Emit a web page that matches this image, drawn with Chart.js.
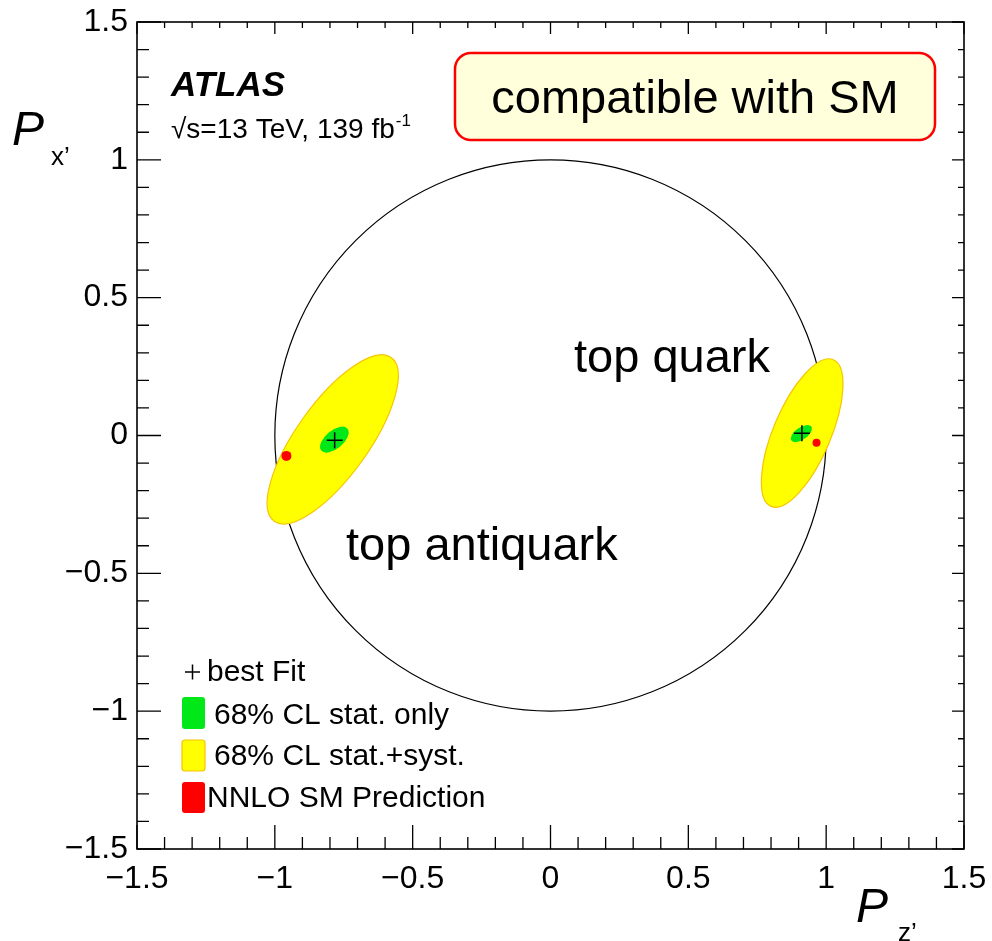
<!DOCTYPE html>
<html>
<head>
<meta charset="utf-8">
<script src="https://cdn.jsdelivr.net/npm/chart.js@4.4.1/dist/chart.umd.min.js"></script>
<style>
  html, body { margin: 0; padding: 0; background: #fff; }
  canvas { display: block; }
</style>
</head>
<body>
<canvas id="myChart" width="992" height="941"></canvas>
<script>
// best fit point (Pz', Px') : antiquark, quark
const fitZ = [-0.783, 0.912];
const fitX = [-0.017, 0.008];
// NNLO SM prediction
const smZ = [-0.958, 0.965];
const smX = [-0.074, -0.026];
// 68% CL stat.+syst. contours (centre, semi axes, angle in degrees)
const systZ = [-0.790, 0.913];
const systX = [-0.014, 0.009];
const systA = [0.365, 0.289];
const systB = [0.132, 0.104];
const systAng = [54.5, 67];
// 68% CL stat. only contours
const statZ = [-0.784, 0.910];
const statX = [-0.015, 0.007];
const statA = [0.062, 0.044];
const statB = [0.033, 0.022];
const statAng = [40, 35];

const tickValues = [-1.5, -1, -0.5, 0, 0.5, 1, 1.5];
const legendLabels = ["best Fit", "68% CL stat. only", "68% CL stat.+syst.", "NNLO SM Prediction"];
const regionLabels = ["top quark", "top antiquark"];

const FONT = "'Liberation Sans', Arial, sans-serif";

function fmt(v) {
  const r = Math.round(v * 10) / 10;
  return r < 0 ? "\u2212" + Math.abs(r) : String(r);
}

function ellipsePath(ctx, xs, ys, z, x, a, b, ang) {
  const cx = xs.getPixelForValue(z);
  const cy = ys.getPixelForValue(x);
  const ra = xs.getPixelForValue(z + a) - cx;
  const rb = xs.getPixelForValue(z + b) - cx;
  ctx.beginPath();
  ctx.ellipse(cx, cy, ra, rb, -ang * Math.PI / 180, 0, 2 * Math.PI);
}

// circle + contours under the points
const contours = {
  id: "contours",
  beforeDatasetsDraw(chart) {
    const ctx = chart.ctx;
    const xs = chart.scales.x, ys = chart.scales.y;
    ctx.save();
    // unit circle
    const cx = xs.getPixelForValue(0), cy = ys.getPixelForValue(0);
    ctx.beginPath();
    ctx.ellipse(cx, cy, xs.getPixelForValue(1) - cx, cy - ys.getPixelForValue(1), 0, 0, 2 * Math.PI);
    ctx.strokeStyle = "#000";
    ctx.lineWidth = 1.2;
    ctx.stroke();

    for (let i = 0; i < systZ.length; i++) {
      ellipsePath(ctx, xs, ys, systZ[i], systX[i], systA[i], systB[i], systAng[i]);
      ctx.fillStyle = "#ffff00";
      ctx.fill();
      ctx.strokeStyle = "#f5c400";
      ctx.lineWidth = 1.2;
      ctx.stroke();
    }
    for (let i = 0; i < statZ.length; i++) {
      ellipsePath(ctx, xs, ys, statZ[i], statX[i], statA[i], statB[i], statAng[i]);
      ctx.fillStyle = "#00e818";
      ctx.fill();
    }
    ctx.restore();
  }
};

// frame, inward ticks, titles, texts, legend
const decorations = {
  id: "decorations",
  afterDraw(chart) {
    const ctx = chart.ctx;
    const a = chart.chartArea;
    const xs = chart.scales.x, ys = chart.scales.y;
    ctx.save();
    ctx.strokeStyle = "#000";
    ctx.lineWidth = 1.6;
    ctx.strokeRect(a.left, a.top, a.right - a.left, a.bottom - a.top);
    ctx.lineWidth = 1.3;
    ctx.beginPath();
    for (let i = -15; i <= 15; i++) {
      const v = i / 10;
      const len = i % 5 === 0 ? 24 : 12;
      const px = xs.getPixelForValue(v);
      const py = ys.getPixelForValue(v);
      ctx.moveTo(px, a.bottom); ctx.lineTo(px, a.bottom - len);
      ctx.moveTo(px, a.top); ctx.lineTo(px, a.top + len * 0.5);
      ctx.moveTo(a.left, py); ctx.lineTo(a.left + len, py);
      ctx.moveTo(a.right, py); ctx.lineTo(a.right - len * 0.5, py);
    }
    ctx.stroke();

    ctx.fillStyle = "#000";
    ctx.textBaseline = "alphabetic";
    ctx.textAlign = "left";

    // axis titles
    ctx.font = "italic 48px " + FONT;
    ctx.fillText("P", 12, 145);
    ctx.fillText("P", 856, 922);
    ctx.font = "26px " + FONT;
    ctx.fillText("x\u2019", 51, 165);
    ctx.fillText("z\u2019", 898, 941);

    // ATLAS label
    ctx.font = "italic bold 35px " + FONT;
    ctx.fillText("ATLAS", 171, 96);
    ctx.font = "28px " + FONT;
    ctx.fillText("\u221As=13 TeV, 139 fb", 171, 138);
    const w = ctx.measureText("\u221As=13 TeV, 139 fb").width;
    ctx.font = "17px " + FONT;
    ctx.fillText("-1", 171 + w + 1, 126);

    // region labels
    ctx.font = "47px " + FONT;
    ctx.fillText(regionLabels[0], 574, 372);
    ctx.fillText(regionLabels[1], 346, 560);

    // compatible box
    ctx.beginPath();
    ctx.roundRect(455, 53, 480, 87, 16);
    ctx.fillStyle = "#ffffdc";
    ctx.fill();
    ctx.strokeStyle = "#ff0000";
    ctx.lineWidth = 2.5;
    ctx.stroke();
    ctx.fillStyle = "#000";
    ctx.textAlign = "center";
    ctx.fillText("compatible with SM", 695, 113);

    // legend
    ctx.textAlign = "left";
    ctx.font = "30px " + FONT;
    ctx.strokeStyle = "#000";
    ctx.lineWidth = 1.5;
    ctx.beginPath();
    ctx.moveTo(185, 672); ctx.lineTo(200, 672);
    ctx.moveTo(192.5, 664.5); ctx.lineTo(192.5, 679.5);
    ctx.stroke();
    ctx.fillText(legendLabels[0], 207, 681);

    ctx.beginPath();
    ctx.roundRect(182, 697, 23, 32, 3);
    ctx.fillStyle = "#00e818";
    ctx.fill();
    ctx.fillStyle = "#000";
    ctx.fillText(legendLabels[1], 214, 724);

    ctx.beginPath();
    ctx.roundRect(182, 740, 23, 31, 3);
    ctx.fillStyle = "#ffff00";
    ctx.fill();
    ctx.strokeStyle = "#f5c400";
    ctx.lineWidth = 1.2;
    ctx.stroke();
    ctx.fillStyle = "#000";
    ctx.fillText(legendLabels[2], 214, 765);

    ctx.beginPath();
    ctx.roundRect(182, 782, 23, 31, 3);
    ctx.fillStyle = "#ff0000";
    ctx.fill();
    ctx.fillStyle = "#000";
    ctx.fillText(legendLabels[3], 207, 807);
    ctx.restore();
  }
};

const ctx = document.getElementById("myChart").getContext("2d");
const chart = new Chart(ctx, {
  type: "scatter",
  data: {
    datasets: [
      {
        label: "NNLO SM Prediction",
        data: smZ.map((z, i) => ({ x: z, y: smX[i] })),
        pointRadius: [5, 4],
        pointBackgroundColor: "#ff0000",
        pointBorderWidth: 0
      },
      {
        label: "best Fit",
        data: fitZ.map((z, i) => ({ x: z, y: fitX[i] })),
        pointStyle: "cross",
        pointRadius: 8,
        pointBorderColor: "#000",
        pointBorderWidth: 1.5
      }
    ]
  },
  options: {
    responsive: false,
    animation: false,
    layout: { padding: { left: 0, right: 28, top: 22, bottom: 0 } },
    plugins: { legend: { display: false }, tooltip: { enabled: false } },
    scales: {
      x: {
        type: "linear",
        min: -1.5, max: 1.5,
        afterBuildTicks: (s) => { s.ticks = tickValues.map(v => ({ value: v })); },
        afterFit: (s) => { s.height = 92; s.paddingLeft = 0; s.paddingRight = 0; },
        grid: { display: false },
        border: { display: false },
        ticks: {
          color: "#000",
          font: { family: FONT, size: 32 },
          padding: 3,
          maxRotation: 0,
          autoSkip: false,
          callback: (v) => fmt(v)
        }
      },
      y: {
        type: "linear",
        min: -1.5, max: 1.5,
        afterBuildTicks: (s) => { s.ticks = tickValues.map(v => ({ value: v })); },
        afterFit: (s) => { s.width = 137; s.paddingTop = 0; s.paddingBottom = 0; },
        grid: { display: false },
        border: { display: false },
        ticks: {
          color: "#000",
          font: { family: FONT, size: 32 },
          padding: 1,
          autoSkip: false,
          callback: (v) => fmt(v)
        }
      }
    }
  },
  plugins: [contours, decorations]
});
</script>
</body>
</html>
